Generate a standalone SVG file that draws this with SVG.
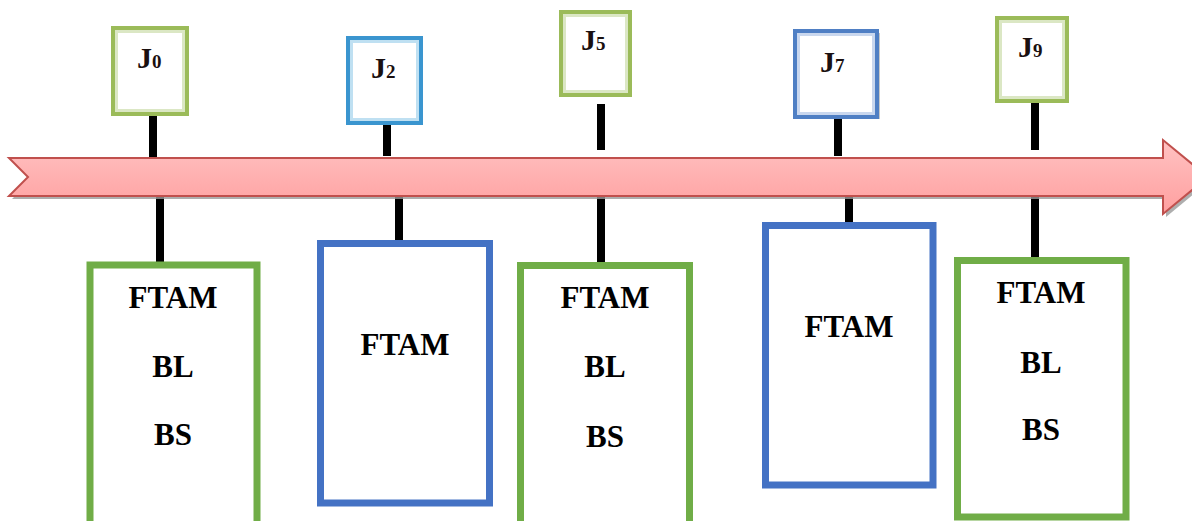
<svg xmlns="http://www.w3.org/2000/svg" width="1192" height="521" viewBox="0 0 1192 521">
<style>
.lbl{font-family:'Liberation Serif','DejaVu Serif',serif;font-weight:700;font-size:31px;fill:#000;text-anchor:middle}
.j{font-family:'Liberation Serif','DejaVu Serif',serif;font-weight:700;font-size:30px;fill:#1a1010}
.sub{font-size:19px}
.conn{stroke:#000;stroke-width:8;fill:none}
.gbox{fill:#fff;stroke:#70ad47;stroke-width:7}
.bbox{fill:#fff;stroke:#4472c4;stroke-width:7}
.tg{fill:#fff;stroke:#9bbb59;stroke-width:4}
.tgi{fill:none;stroke:#dbe7c4;stroke-width:3}
.tb{fill:#fff;stroke:#3a95cf;stroke-width:4}
.tbi{fill:none;stroke:#bfe0f2;stroke-width:3}
.tb7{fill:#fff;stroke:#4f7fc4;stroke-width:4}
</style>
<defs>
<linearGradient id="ag" x1="0" y1="0" x2="0" y2="1">
<stop offset="0" stop-color="#ffc2c2"/>
<stop offset="1" stop-color="#ff9f9f"/>
</linearGradient>
</defs>
<rect width="1192" height="521" fill="#fff"/>
<g id="connectors">
<line class="conn" x1="153" y1="115" x2="153" y2="162"/>
<line class="conn" x1="160" y1="190" x2="160" y2="262"/>
<line class="conn" x1="387" y1="122" x2="387" y2="156"/>
<line class="conn" x1="399" y1="190" x2="399" y2="241"/>
<line class="conn" x1="601" y1="104" x2="601" y2="150"/>
<line class="conn" x1="601" y1="190" x2="601" y2="262"/>
<line class="conn" x1="838" y1="117" x2="838" y2="156"/>
<line class="conn" x1="849" y1="190" x2="849" y2="223"/>
<line class="conn" x1="1035" y1="102" x2="1035" y2="150"/>
<line class="conn" x1="1035" y1="190" x2="1035" y2="258"/>
</g>
<g id="timeline">
<polygon points="12,161 1166,161 1166,143 1211,180 1166,217 1166,199 12,199 31,180" fill="#9a9a9a" opacity="0.8"/>
<polygon points="9,158 1163,158 1163,140 1208,177 1163,214 1163,196 9,196 28,177" fill="url(#ag)" stroke="#c0504d" stroke-width="2"/>
</g>
<g id="J0">
<rect class="tg" x="113" y="28" width="74" height="86"/>
<rect class="tgi" x="116.5" y="31.5" width="67" height="79"/>
<text class="j" x="137" y="68">J<tspan class="sub">0</tspan></text>
</g>
<g id="J2">
<rect class="tb" x="348" y="38" width="73" height="85"/>
<rect class="tbi" x="351.5" y="41.5" width="66" height="78"/>
<text class="j" x="371" y="78">J<tspan class="sub">2</tspan></text>
</g>
<g id="J5">
<rect class="tg" x="561" y="12" width="69" height="83"/>
<rect class="tgi" x="564.5" y="15.5" width="62" height="76"/>
<text class="j" x="581" y="50">J<tspan class="sub">5</tspan></text>
</g>
<g id="J7">
<rect x="798" y="33" width="82" height="86" fill="#c8c8c8"/>
<rect class="tb7" x="795" y="31" width="82" height="86"/>
<rect fill="none" stroke="#c9d7ee" stroke-width="3" x="798.5" y="34.5" width="75" height="79"/>
<text class="j" x="820" y="72">J<tspan class="sub">7</tspan></text>
</g>
<g id="J9">
<rect class="tg" x="997" y="18" width="70" height="83"/>
<rect class="tgi" x="1000.5" y="21.5" width="63" height="76"/>
<text class="j" x="1018" y="57">J<tspan class="sub">9</tspan></text>
</g>
<g id="B0">
<rect class="gbox" x="90" y="265" width="167" height="270"/>
<text class="lbl" x="173" y="308">FTAM</text>
<text class="lbl" x="173" y="377">BL</text>
<text class="lbl" x="173" y="445">BS</text>
</g>
<g id="B2">
<rect class="bbox" x="320.5" y="243.5" width="169" height="259.5"/>
<text class="lbl" x="405" y="355">FTAM</text>
</g>
<g id="B5">
<rect class="gbox" x="520.5" y="265.5" width="169" height="270"/>
<text class="lbl" x="605" y="308">FTAM</text>
<text class="lbl" x="605" y="377">BL</text>
<text class="lbl" x="605" y="447">BS</text>
</g>
<g id="B7">
<rect class="bbox" x="765.5" y="225.5" width="167.5" height="259.5"/>
<text class="lbl" x="849" y="337">FTAM</text>
</g>
<g id="B9">
<rect class="gbox" x="957.5" y="260.5" width="168.5" height="256.5"/>
<text class="lbl" x="1041" y="303">FTAM</text>
<text class="lbl" x="1041" y="373">BL</text>
<text class="lbl" x="1041" y="440">BS</text>
</g>
</svg>
